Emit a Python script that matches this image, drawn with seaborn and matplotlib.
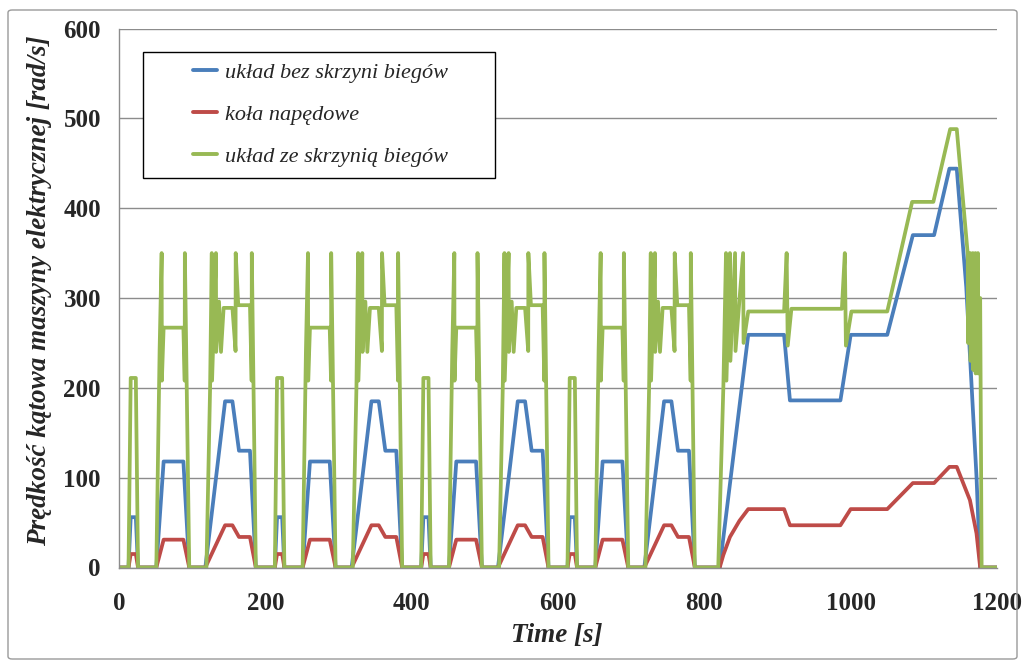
import numpy as np
import pandas as pd
import matplotlib
matplotlib.use("Agg")
import matplotlib.pyplot as plt
import seaborn as sns
from matplotlib.patches import Rectangle, FancyBboxPatch

# ---------------- data ----------------
# one urban (ECE) cycle, time relative to cycle start [s]
ece_t     = [0, 13, 16, 23, 26, 51, 61, 88, 96, 118, 145, 155, 164, 179, 187, 200]
ece_blue  = [0, 0, 56, 56, 0, 0, 118, 118, 0, 0, 185, 185, 130, 130, 0, 0]
ece_red   = [0, 0, 15, 15, 0, 0, 31, 31, 0, 0, 47, 47, 34, 34, 0, 0]
ece_green_t = [0, 13, 16, 23, 26, 51, 55.5, 58.3, 58.6, 61, 88, 89.8, 90.0, 96,
               119.5, 124.5, 126.8, 127.2, 132.5, 132.8, 136.7, 139.4, 143, 155,
               159.3, 159.5, 163, 179, 181.3, 181.5, 187, 200]
ece_green = [0, 0, 211, 211, 0, 0, 242, 350, 208, 267, 267, 208, 350, 0,
             0, 200, 350, 208, 350, 240, 296, 240, 289, 289,
             241, 350, 292, 292, 208, 350, 0, 0]
cycle_starts = [0, 200, 400, 600]

# extra-urban part
eudc_t    = [800, 821, 860, 909, 917, 986, 1000, 1050, 1085, 1114, 1135, 1145, 1158, 1172, 1177, 1200]
eudc_blue = [0, 0, 259, 259, 186, 186, 259, 259, 370, 370, 444, 444, 312, 101, 0, 0]
eudc_red_t = [800, 821, 826, 835, 848, 860, 909, 917, 986, 1000, 1050, 1085, 1114, 1135, 1145, 1163, 1172, 1177, 1200]
eudc_red   = [0, 0, 14, 34, 52, 65, 65, 47, 47, 65, 65, 94, 94, 112, 112, 75, 38, 0, 0]
eudc_green_t = [800, 819, 826, 829.6, 830.2, 835, 835.6, 842, 842.6, 853, 853.6, 860,
                909, 912.5, 914, 919, 988, 992, 993.5, 1001, 1050, 1084, 1113, 1136,
                1145, 1160, 1160.4, 1163.5, 1163.9, 1167, 1167.4, 1170.5, 1170.9,
                1174, 1174.4, 1177, 1179, 1200]
eudc_green = [0, 0, 201, 350, 208, 350, 230, 350, 241, 350, 250, 285,
              285, 350, 247, 288, 288, 350, 247, 285, 285, 407, 407, 488,
              488, 349, 250, 350, 230, 350, 220, 350, 216,
              350, 216, 300, 0, 0]

labels = ["układ bez skrzyni biegów", "koła napędowe", "układ ze skrzynią biegów"]
colors = ["#4A7EBB", "#BE4B48", "#98B954"]

x_ticks = [0, 200, 400, 600, 800, 1000, 1200]
y_ticks = [0, 100, 200, 300, 400, 500, 600]


def build(t_cyc, v_cyc, t_ext, v_ext):
    tt, vv = [], []
    for s in cycle_starts:
        tt += [s + t for t in t_cyc]
        vv += list(v_cyc)
    tt += list(t_ext)
    vv += list(v_ext)
    return pd.DataFrame({"t": tt, "v": vv})


series = [
    build(ece_t, ece_blue, eudc_t, eudc_blue),
    build(ece_t, ece_red, eudc_red_t, eudc_red),
    build(ece_green_t, ece_green, eudc_green_t, eudc_green),
]

# ---------------- figure ----------------
sns.set_theme(style="white")
plt.rcParams["font.family"] = ["Liberation Serif", "DejaVu Serif"]

fig = plt.figure(figsize=(10.25, 6.65), dpi=100)
W, H = 1025, 665
l, r, t_, b = 119, 997, 28.5, 567.5
ax = fig.add_axes([l / W, 1 - b / H, (r - l) / W, (b - t_) / H])

# outer chart border
fig.patches.append(FancyBboxPatch((8 / W, 6 / H), (1017 - 8) / W, (655 - 6) / H,
                                  boxstyle="round,pad=0,rounding_size=0.004",
                                  transform=fig.transFigure, fill=False,
                                  edgecolor="#9a9a9a", lw=1.0))

for df, lab, c in zip(series, labels, colors):
    sns.lineplot(data=df, x="t", y="v", ax=ax, sort=False, estimator=None,
                 color=c, lw=2.7, label=lab)

ax.set_xlim(0, 1200)
ax.set_ylim(0, 600)
ax.set_xticks(x_ticks)
ax.set_yticks(y_ticks)
ax.set_xticklabels([str(v) for v in x_ticks])
ax.set_yticklabels([str(v) for v in y_ticks])
ax.yaxis.grid(True, color="#8c8c8c", lw=1.0)
ax.xaxis.grid(False)
ax.set_axisbelow(True)
for sp in ["top", "right"]:
    ax.spines[sp].set_visible(False)
for sp in ["left", "bottom"]:
    ax.spines[sp].set_color("#8c8c8c")
    ax.spines[sp].set_linewidth(1.0)
ax.tick_params(axis="both", which="major", direction="out", length=5, width=1,
               color="#8c8c8c", labelsize=18)
ax.tick_params(axis="y", pad=8)
ax.tick_params(axis="x", pad=13)
for lbl in ax.get_xticklabels() + ax.get_yticklabels():
    lbl.set_fontweight("bold")

ax.set_xlabel("Time [s]", fontsize=19.5, fontweight="bold", style="italic")
ax.set_ylabel("Prędkość kątowa maszyny elektrycznej [rad/s]", fontsize=19.5,
              fontweight="bold", style="italic")
ax.xaxis.set_label_coords((557 - l) / (r - l), (b - 636) / (b - t_))
ax.xaxis.label.set_va("center")
ax.yaxis.set_label_coords((40 - l) / (r - l), (b - 291) / (b - t_))
ax.yaxis.label.set_va("center")

# legend box
bx0, by0, bx1, by1 = 143, 52, 495, 178
ax.add_patch(Rectangle(((bx0 - l) / (r - l), (b - by1) / (b - t_)),
                       (bx1 - bx0) / (r - l), (by1 - by0) / (b - t_),
                       transform=ax.transAxes, facecolor="white",
                       edgecolor="black", lw=1.0, zorder=5))
leg = ax.legend(loc="upper left", frameon=False,
                bbox_to_anchor=((193 - l) / (r - l), (b - 62.5) / (b - t_)),
                borderaxespad=0, borderpad=0,
                handlelength=1.08, handletextpad=0.36, labelspacing=0.96,
                prop={"family": "Liberation Serif", "style": "italic", "size": 16})
leg.set_zorder(6)
for h in leg.legend_handles:
    h.set_linewidth(2.8)

fig.savefig("out.png", dpi=100)
